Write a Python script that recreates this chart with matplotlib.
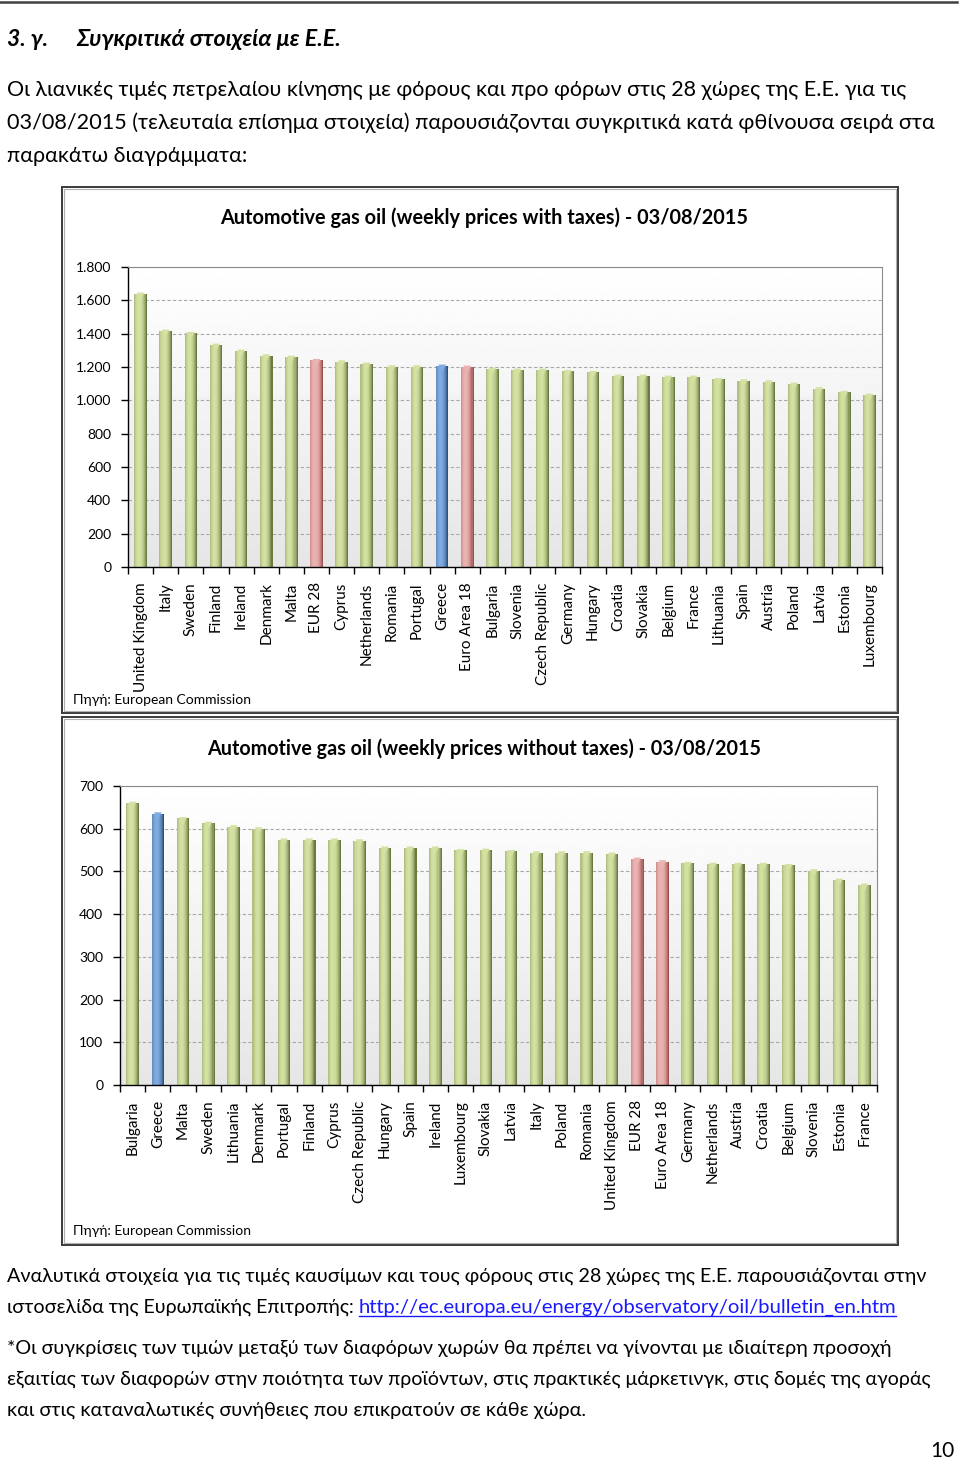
import numpy as np
import matplotlib
matplotlib.use("Agg")
import matplotlib.pyplot as plt
from matplotlib.patches import Rectangle
from matplotlib.lines import Line2D
from matplotlib.colors import to_rgb
from matplotlib.ticker import FuncFormatter, FixedLocator

# ---------------- data ----------------
countries_tax = ["United Kingdom", "Italy", "Sweden", "Finland", "Ireland", "Denmark", "Malta",
                 "EUR 28", "Cyprus", "Netherlands", "Romania", "Portugal", "Greece", "Euro Area 18",
                 "Bulgaria", "Slovenia", "Czech Republic", "Germany", "Hungary", "Croatia", "Slovakia",
                 "Belgium", "France", "Lithuania", "Spain", "Austria", "Poland", "Latvia", "Estonia",
                 "Luxembourg"]
prices_tax = [1638, 1416, 1402, 1332, 1296, 1268, 1260, 1240, 1232, 1218, 1202, 1202, 1206, 1200,
              1188, 1182, 1182, 1174, 1168, 1146, 1146, 1140, 1140, 1126, 1118, 1112, 1098, 1070,
              1048, 1032]

countries_notax = ["Bulgaria", "Greece", "Malta", "Sweden", "Lithuania", "Denmark", "Portugal",
                   "Finland", "Cyprus", "Czech Republic", "Hungary", "Spain", "Ireland", "Luxembourg",
                   "Slovakia", "Latvia", "Italy", "Poland", "Romania", "United Kingdom", "EUR 28",
                   "Euro Area 18", "Germany", "Netherlands", "Austria", "Croatia", "Belgium",
                   "Slovenia", "Estonia", "France"]
prices_notax = [660, 635, 624, 613, 605, 600, 574, 574, 574, 572, 555, 555, 555, 549,
                550, 547, 544, 544, 544, 541, 529, 523, 519, 517, 517, 517, 514, 502, 480, 468]

title_tax = "Automotive gas oil (weekly prices with taxes) - 03/08/2015"
title_notax = "Automotive gas oil (weekly prices without taxes) - 03/08/2015"
source = "Πηγή: European Commission"
yticks_tax = [0, 200, 400, 600, 800, 1000, 1200, 1400, 1600, 1800]
yticks_notax = [0, 100, 200, 300, 400, 500, 600, 700]

heading_num = "3. γ."
heading_txt = "Συγκριτικά στοιχεία με Ε.Ε."
intro_lines = [
    "Οι λιανικές τιμές πετρελαίου κίνησης με φόρους και προ φόρων στις 28 χώρες της Ε.Ε. για τις",
    "03/08/2015 (τελευταία επίσημα στοιχεία) παρουσιάζονται συγκριτικά κατά φθίνουσα σειρά στα",
    "παρακάτω διαγράμματα:",
]
outro_line1 = "Αναλυτικά στοιχεία για τις τιμές καυσίμων και τους φόρους στις 28 χώρες της Ε.Ε. παρουσιάζονται στην"
outro_line2 = "ιστοσελίδα της Ευρωπαϊκής Επιτροπής: "
link = "http://ec.europa.eu/energy/observatory/oil/bulletin_en.htm"
note_lines = [
    "*Οι συγκρίσεις των τιμών μεταξύ των διαφόρων χωρών θα πρέπει να γίνονται με ιδιαίτερη προσοχή",
    "εξαιτίας των διαφορών στην ποιότητα των προϊόντων, στις πρακτικές μάρκετινγκ, στις δομές της αγοράς",
    "και στις καταναλωτικές συνήθειες που επικρατούν σε κάθε χώρα.",
]
page_no = "10"

# ---------------- style ----------------
plt.rcParams['font.family'] = ['Lato', 'DejaVu Sans']
W, H = 960, 1459
fig = plt.figure(figsize=(W / 100, H / 100), dpi=100)
renderer = fig.canvas.get_renderer()

def fx(px):
    return px / W

def fy(py):
    return 1 - py / H

def fitted_text(x_px, y_px, s, target_w, base=15, **kw):
    t = fig.text(fx(x_px), fy(y_px), s, fontsize=base, va='baseline', **kw)
    w = t.get_window_extent(renderer).width
    size = base * target_w / w
    size = min(max(size, base * 0.85), base * 1.12)
    t.set_fontsize(size)
    return t

PALETTE = {
    'g': ('#56652c', '#d3e2a2'),
    'r': ('#8c3d3c', '#eab3b1'),
    'b': ('#1e3d6b', '#7eabe0'),
}

def kind_of(name):
    if name == "Greece":
        return 'b'
    if name in ("EUR 28", "Euro Area 18"):
        return 'r'
    return 'g'

def draw_chart(rect, names, vals, yticks, box, title, title_y, title_w, src_y):
    x0, y0, x1, y1 = box
    fig.patches.append(Rectangle((fx(x0), fy(y1)), fx(x1 - x0), (y1 - y0) / H,
                                 transform=fig.transFigure, fill=False,
                                 edgecolor='#3a3a3a', linewidth=1.4))
    fig.patches.append(Rectangle((fx(x0 + 2), fy(y1 - 2)), fx(x1 - x0 - 4), (y1 - y0 - 4) / H,
                                 transform=fig.transFigure, fill=False,
                                 edgecolor='#b0b0b0', linewidth=0.8))
    ax = fig.add_axes(rect)
    n = len(vals)
    x = np.arange(n)
    ax.set_xlim(-0.5, n - 0.5)
    ax.set_ylim(0, yticks[-1])
    grad = np.linspace(1.0, 0.90, 256).reshape(-1, 1)
    ax.imshow(grad, extent=[0, 1, 0, 1], transform=ax.transAxes, cmap='gray',
              vmin=0, vmax=1, aspect='auto', zorder=0)
    for t in yticks[1:]:
        ax.axhline(t, color='#a8a8a8', linewidth=0.8, linestyle=(0, (3, 2)), zorder=1)
    kinds = [kind_of(nm) for nm in names]
    w = 0.5
    ns = 12
    for k in range(ns):
        t = (k + 0.5) / ns
        wt = 1 - ((t - 0.38) / 0.62) ** 2
        wt = max(0.0, min(1.0, wt)) ** 0.9
        cols = []
        for kd in kinds:
            d, l = np.array(to_rgb(PALETTE[kd][0])), np.array(to_rgb(PALETTE[kd][1]))
            cols.append(tuple(d + (l - d) * wt))
        ax.bar(x - w / 2 + t * w, vals, width=w / ns * 1.05, color=cols, linewidth=0, zorder=2)
    ymax = yticks[-1]
    capc = [PALETTE[kd][1] for kd in kinds]
    ax.scatter(x, np.array(vals) - 0.008 * ymax, marker='v', s=30, c=capc,
               edgecolors='none', zorder=3)
    for s in ('top', 'right'):
        ax.spines[s].set_color('#8a8a8a')
        ax.spines[s].set_linewidth(0.8)
    for s in ('left', 'bottom'):
        ax.spines[s].set_color('black')
        ax.spines[s].set_linewidth(1.0)
    ax.yaxis.set_major_locator(FixedLocator(yticks))
    ax.yaxis.set_major_formatter(FuncFormatter(lambda v, p: f"{int(v):,}".replace(",", ".")))
    ax.tick_params(axis='y', direction='out', length=5, width=1, pad=7, labelsize=10)
    ax.xaxis.set_major_locator(FixedLocator(np.arange(n + 1) - 0.5))
    ax.xaxis.set_major_formatter(FuncFormatter(lambda v, p: ""))
    ax.set_xticks(x, minor=True)
    ax.set_xticklabels(names, minor=True, rotation=90, fontsize=11)
    ax.tick_params(axis='x', which='major', direction='out', length=5, width=1)
    ax.tick_params(axis='x', which='minor', length=0, pad=11)
    tt = fig.text(0.5 * (fx(x0) + fx(x1)) + 0.004, fy(title_y), title, ha='center', va='center',
                  fontsize=14, fontweight='bold')
    tw = tt.get_window_extent(renderer).width
    tt.set_fontsize(14 * title_w / tw)
    fig.text(fx(73), fy(src_y), source, ha='left', va='center', fontsize=10)
    return ax

draw_chart([fx(128), fy(567), fx(882 - 128), (567 - 267) / H], countries_tax, prices_tax,
           yticks_tax, (62, 187, 898, 713), title_tax, 218, 527, 700)
draw_chart([fx(120), fy(1085), fx(877 - 120), (1085 - 786) / H], countries_notax, prices_notax,
           yticks_notax, (62, 717, 898, 1245), title_notax, 749, 557, 1231)

# page rule
fig.add_artist(Line2D([0, fx(957)], [fy(2), fy(2)], color='#404040', linewidth=1.8,
                      transform=fig.transFigure))

# heading
fig.text(fx(7), fy(46), heading_num, fontsize=16.5, fontweight='bold', fontstyle='italic', va='baseline')
fitted_text(76, 46, heading_txt, 264, base=16.5, fontweight='bold', fontstyle='italic')

intro_w = [899, 930, 241]
for i, ln in enumerate(intro_lines):
    fitted_text(7, 96 + 33 * i, ln, intro_w[i])

fitted_text(7, 1282, outro_line1, 918)
t2 = fitted_text(7, 1313, outro_line2, 352)
note_w = [886, 923, 580]
for i, ln in enumerate(note_lines):
    fitted_text(7, 1354 + 31 * i, ln, note_w[i])
fig.text(fx(955), fy(1457), page_no, fontsize=15, ha='right', va='baseline')

bb = t2.get_window_extent(renderer)
lt = fig.text(bb.x1 / W, fy(1313), link, fontsize=15, va='baseline', color='#1a1aff')
lw_ = lt.get_window_extent(renderer).width
lt.set_fontsize(15 * (897 - bb.x1) / lw_)
lb = lt.get_window_extent(renderer)
fig.add_artist(Line2D([lb.x0 / W, lb.x1 / W], [fy(1316), fy(1316)], color='#1a1aff',
                      linewidth=1.0, transform=fig.transFigure))

fig.savefig("out.png", dpi=100)
